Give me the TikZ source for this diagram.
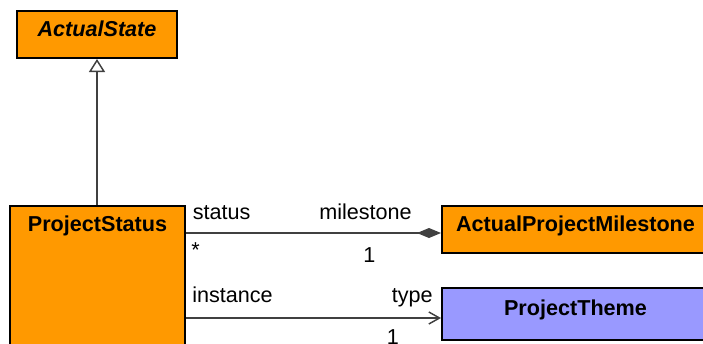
\documentclass[tikz,border=0pt]{standalone}
\usepackage{fontspec}
\setmainfont{Liberation Sans}
\usetikzlibrary{arrows.meta,positioning}
\definecolor{umlorange}{HTML}{FF9900}
\definecolor{umlblue}{HTML}{9999FF}
\definecolor{umlline}{HTML}{404040}
\tikzset{
  cls/.style={draw=black, line width=1.5pt, rectangle, inner sep=0pt, text height=11.6pt, text depth=9pt, font=\fontsize{16.2}{19}\selectfont\bfseries},
  assoc/.style={draw=umlline, line width=1.1pt},
  role/.style={inner sep=0pt, font=\fontsize{16.2}{19}\selectfont},
}

\begin{document}
\begin{tikzpicture}[x=0.75pt,y=-0.75pt]
\clip (0,0) rectangle (703,343);
% classes
\node[cls, fill=umlorange, minimum width=120pt, minimum height=35.25pt] (as) at (97,34.5) {\itshape ActualState};
\node[cls, fill=umlorange, anchor=north west, minimum width=131.25pt, minimum height=120pt] (ps) at (9,205) {};
\node[cls, draw=none, below=7.5pt of ps.north] (psname) {ProjectStatus};
\node[cls, fill=umlorange, minimum width=200.25pt, minimum height=35.25pt] (apm) at (575.5,229.5) {ActualProjectMilestone};
\node[cls, fill=umlblue, minimum width=200.25pt, minimum height=39pt] (pt) at (575.5,314) {ProjectTheme};
% connectors
\coordinate (sline) at (0,233);
\coordinate (iline) at (0,318);
\draw[assoc, -{Triangle[open, length=9.75pt, width=12pt]}] (ps.north -| as.south) -- (as.south);
\draw[assoc, -{Diamond[length=18pt, width=7.5pt]}] (ps.east |- sline) -- (apm.west |- sline);
\draw[assoc, -{Straight Barb[length=8pt, width=9pt]}] (ps.east |- iline) -- (pt.west |- iline);
% roles and multiplicities
\node[role, anchor=base west] (srcrole) at (192.5,219) {status};
\node[role, anchor=base west] (srcmult) at (191,257) {*};
\node[role, anchor=base east] (dstrole) at (412,219) {milestone};
\node[role, anchor=base] (dstmult) at (369.5,262) {1};
\node[role, anchor=base west] (insrole) at (192,302) {instance};
\node[role, anchor=base east] (typrole) at (433,302) {type};
\node[role, anchor=base] (typmult) at (393,344.5) {1};
\end{tikzpicture}
\end{document}
